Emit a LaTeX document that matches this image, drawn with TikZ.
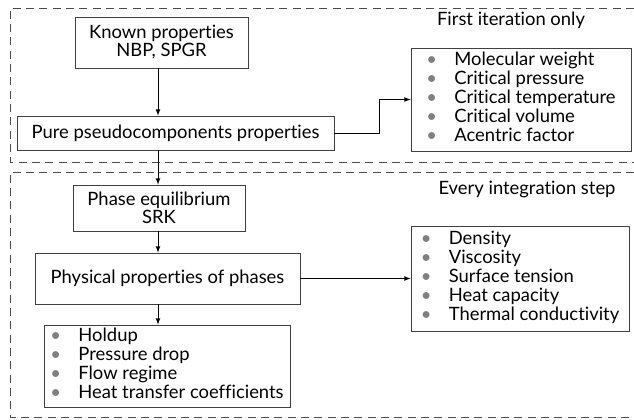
\documentclass[tikz,border=0pt]{standalone}
\usepackage{xcolor}
\usepackage{fontspec}
\setmainfont[Ligatures=NoCommon]{Lato}
\usepackage{tikz}
\newcommand{\blt}{\textcolor{gray}{\textbullet}}

\begin{document}
\begin{tikzpicture}[x=0.75pt,y=-0.75pt]
			\tikzstyle{box}=[draw=black!75, line width=0.6pt, inner sep=0pt, font=\fontsize{13.8}{13.5}\selectfont]
			\tikzstyle{frame}=[draw=black!70, line width=0.6pt, dash pattern=on 6pt off 4pt]
			\tikzstyle{caption}=[font=\fontsize{13.8}{13.5}\selectfont]
			\tikzset{edge/.style = {->,> = latex, line width=0.6pt}}
			
			\useasboundingbox (0,0) rectangle (634,419);
			
			% dashed frames
			\draw[frame] (634,8) -- (10,8) -- (10,162) -- (634,162);
			\draw[frame] (634,172) -- (10,172) -- (10,417) -- (634,417);
			
			\node[caption](first) at (511,20) {First iteration only};
			\node[caption](every) at (527,189) {Every integration step};
			
			\node[box, minimum width=129.75pt, minimum height=38.25pt, align=center](known) at (161.5,42.5) {Known properties\\NBP, SPGR};
			\node[box, minimum width=237.75pt, minimum height=25.5pt](pure) at (175.5,133) {Pure pseudocomponents properties};
			\node[box, minimum width=165pt, minimum height=77.25pt](crit) at (521,99.5) {\begin{tabular}{@{}l@{\hspace{13pt}}l@{}}
				\blt & Molecular weight\\ \blt & Critical pressure\\ \blt & Critical temperature\\ \blt & Critical volume\\ \blt & Acentric factor\end{tabular}};
			\node[box, minimum width=129pt, minimum height=34.5pt, align=center](phase) at (159,208) {Phase equilibrium\\SRK};
			\node[box, minimum width=198.75pt, minimum height=38.25pt](phys) at (167.5,278.5) {Physical properties of phases};
			\node[box, minimum width=163.5pt, minimum height=78.75pt](dens) at (520,278.5) {\begin{tabular}{@{}l@{\hspace{13pt}}l@{}}
				\blt & Density\\ \blt & Viscosity\\ \blt & Surface tension\\ \blt & Heat capacity\\ \blt & Thermal conductivity\end{tabular}};
			\node[box, minimum width=184.5pt, minimum height=61.5pt](hold) at (167,366) {\begin{tabular}{@{}l@{\hspace{13pt}}l@{}}
				\blt & Holdup\\ \blt & Pressure drop\\ \blt & Flow regime\\ \blt & Heat transfer coefficients\end{tabular}};
			
			\coordinate (spine) at (158,0);
			\coordinate (bend) at (379,0);
			
			\draw[edge] (known.south -| spine) to (pure.north -| spine);
			\draw[edge] (pure.east) -- (pure.east -| bend) |- (crit.west);
			\draw[edge] (pure.south -| spine) to (phase.north -| spine);
			\draw[edge] (phase.south -| spine) to (phys.north -| spine);
			\draw[edge] (phys.east) to (dens.west);
			\draw[edge] (phys.south -| spine) to (hold.north -| spine);
			\end{tikzpicture}
\end{document}
